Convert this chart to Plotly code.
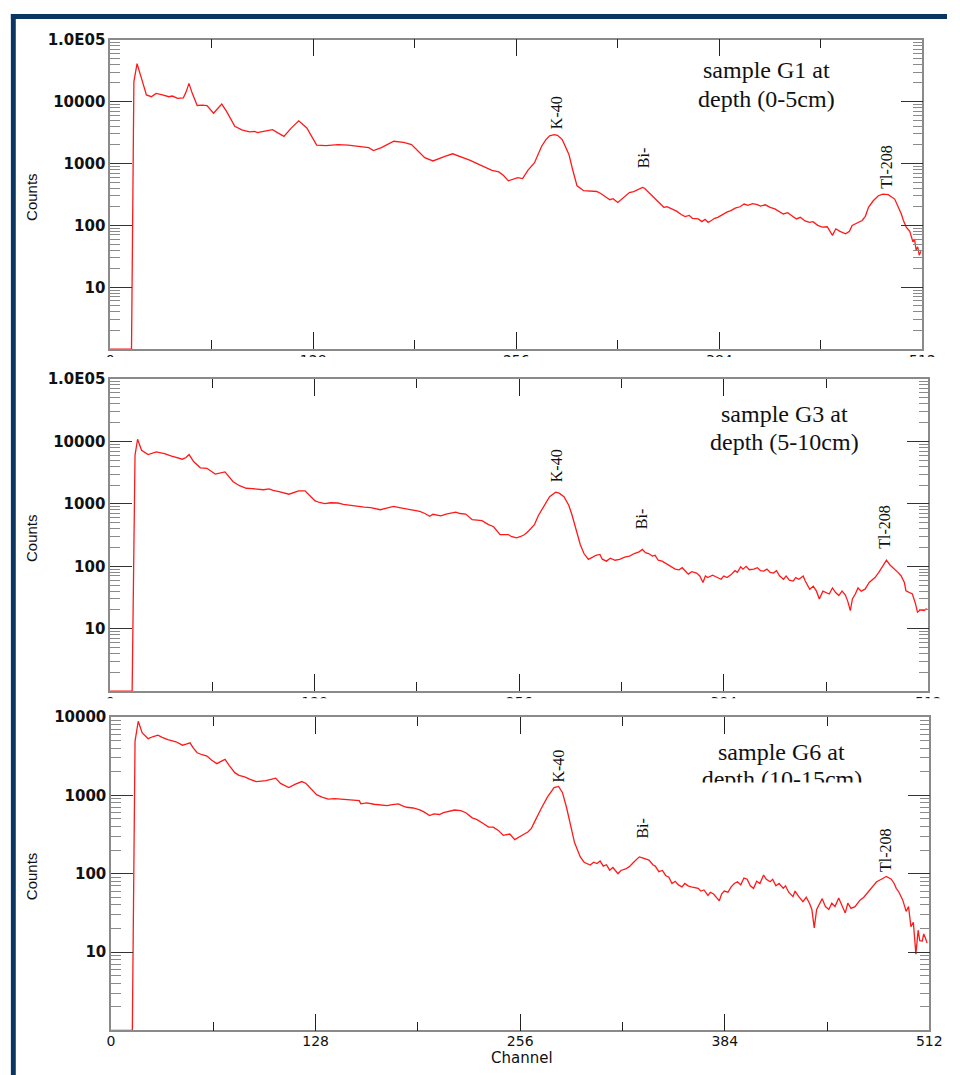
import plotly.graph_objects as go

W, H = 960, 1075

# ---------------- data (channel, counts) ----------------
g1_ch = [0, 13.5, 15, 17, 19.8, 22.9, 26, 29, 33, 37, 39.3, 42.5, 46.2, 48, 49.7, 51.8, 54.9, 58, 61.1, 65.2,
         68, 70.4, 73.5, 78.6, 83, 87.9, 91, 93, 95.1, 99, 102.4, 106, 109.6, 114, 118.9, 124, 130.2, 136,
         143.7, 150, 158, 163, 166, 171, 178.8, 185, 190, 194, 198.3, 203.5, 207, 211, 215.9, 222, 227,
         232.4, 236, 240.7, 245, 248, 251, 254, 257, 260, 263.3, 267.5, 269.5, 272, 274.7, 277, 279.9, 282,
         285, 287, 289.2, 291.5, 294.3, 298.5, 302, 306.7, 309, 311, 312.9, 315, 317, 320, 323, 325, 327.3,
         330, 333, 335.6, 337, 339, 341.8, 345, 349, 351, 354, 357, 360, 362.4, 365, 367, 370.7, 373, 375,
         376.9, 379, 381, 383, 386, 389, 391.3, 394, 397, 399.6, 402, 405, 407.9, 410, 413, 416, 419, 421,
         424.3, 427, 430, 432.6, 435, 438, 440.9, 443, 446, 449, 452, 455.3, 457.4, 460, 463.6, 466, 467.7,
         471, 474, 476, 478, 481, 484.2, 487, 490.4, 494.5, 496.5, 498.7, 500, 501.8, 504, 506, 507, 508,
         509, 510, 511]
g1_cnt = [1, 1, 21000, 41000, 23700, 12800, 12000, 13600, 12800, 12000, 12300, 11300, 11500, 14500, 19700,
          13600, 8650, 8800, 8650, 6500, 7800, 9100, 6900, 4000, 3500, 3240, 3300, 3150, 3240, 3350, 3520,
          3100, 2750, 3700, 4900, 3750, 1980, 1950, 2020, 1980, 1880, 1800, 1620, 1800, 2290, 2200, 2020,
          1600, 1240, 1100, 1200, 1300, 1435, 1270, 1120, 970, 890, 776, 730, 640, 525, 560, 592, 570, 776,
          1030, 1400, 1900, 2430, 2800, 2930, 2850, 2430, 1900, 1400, 800, 436, 363, 355, 353, 330, 300, 283,
          260, 270, 235, 270, 300, 340, 350, 380, 410, 395, 350, 301, 250, 196, 200, 184, 170, 150, 139, 145,
          130, 127, 115, 125, 112, 120, 130, 135, 150, 165, 173, 190, 200, 221, 210, 225, 216, 205, 215, 196,
          185, 170, 153, 160, 140, 127, 135, 118, 112, 115, 100, 94, 95, 69, 88, 80, 73, 80, 100, 110, 120,
          140, 196, 250, 301, 320, 313, 266, 210, 153, 120, 94, 80, 54, 60, 40, 45, 33, 38]

g3_ch = [0, 13.8, 15.6, 17.2, 19.7, 23.8, 28.9, 34, 38, 45.3, 47.5, 49.4, 52.4, 56.5, 60.6, 65.8, 71.9, 77,
         81, 85.2, 89, 93.4, 96, 99.5, 102, 105.7, 111.9, 118, 122, 125, 128.3, 131, 134.4, 138, 142.6, 146,
         150.8, 155, 159, 163, 166, 169.2, 173, 177.4, 181, 185.6, 189, 193.8, 197, 200, 202, 204, 207,
         210.2, 213, 216.3, 219, 222.5, 226.6, 230, 232.7, 236.8, 240, 244, 249.2, 251, 254.3, 257, 259.4,
         262, 265.5, 268, 271.7, 275, 278.8, 281, 284, 287, 289, 291.5, 294.2, 296.5, 299.3, 302, 304, 306.5,
         308, 310.6, 313, 316, 318.8, 322, 325, 328, 331, 333.1, 335, 337, 339.3, 341, 343, 345.4, 348, 350,
         353.6, 356, 358, 361.8, 364, 367, 369, 371, 372.5, 374, 377, 379, 382.3, 384, 386, 388.4, 391, 392.5,
         394.6, 396, 398, 400, 402.8, 405, 407, 409, 411, 413, 415, 417, 419, 421.4, 423, 425, 427.5, 429,
         431, 433.7, 435, 437.8, 440, 442, 443.8, 446, 448, 450, 452, 454, 456, 458, 460, 461.5, 463.2,
         464.5, 466.3, 468, 470, 472.4, 475, 478.6, 481, 483, 485.8, 488, 491, 493, 495, 497, 498, 500, 502,
         504, 505.2, 507, 509.3, 511]
g3_cnt = [1, 1, 6000, 10800, 7200, 6150, 6770, 6380, 5850, 5180, 5500, 6150, 4700, 3770, 3700, 2990, 3240,
          2260, 1950, 1775, 1750, 1710, 1680, 1730, 1640, 1570, 1425, 1610, 1610, 1350, 1115, 1050, 1010,
          1040, 1030, 980, 940, 920, 886, 870, 830, 804, 850, 907, 870, 832, 800, 755, 700, 630, 680, 660,
          640, 686, 710, 738, 700, 686, 557, 545, 537, 464, 430, 322, 322, 300, 285, 300, 322, 370, 464, 650,
          964, 1300, 1535, 1480, 1305, 950, 669, 400, 223, 160, 129, 140, 150, 155, 130, 121, 135, 125, 129,
          140, 146, 160, 170, 186, 165, 160, 146, 150, 125, 121, 110, 100, 90, 88, 95, 75, 82, 78, 70, 55, 70,
          66, 72, 68, 62, 70, 66, 73, 85, 80, 98, 90, 100, 88, 90, 95, 85, 84, 90, 80, 78, 85, 70, 62, 70,
          60, 58, 66, 62, 70, 58, 43, 48, 40, 30, 40, 38, 36, 45, 38, 34, 40, 35, 28, 19.5, 30, 36, 45, 40,
          43, 55, 66, 80, 95, 125, 105, 90, 80, 70, 55, 40.5, 38, 36, 25, 18.4, 20, 19.5, 21]

g6_ch = [0, 13.3, 15, 17, 19.5, 23.2, 26, 29.3, 32, 35.5, 40.6, 44.7, 47, 49.4, 51.5, 53.9, 57, 60, 63, 66.2,
         68.5, 71.3, 74, 77.4, 80, 83.6, 87, 90.8, 94, 96.9, 100, 103, 106, 108.5, 111.2, 115, 119.4, 122,
         124.5, 128.6, 132, 135.8, 140, 144, 148, 152, 155.3, 156.3, 160, 164.5, 168, 172.7, 176, 179.8, 182,
         185, 189, 193.2, 196, 199.3, 202, 205.5, 208, 211.6, 215, 218.8, 222, 226, 229, 233.1, 236.2, 239.2,
         242.3, 245.4, 249.5, 252.6, 256.7, 258.8, 260.8, 262.9, 264.9, 267, 269, 273, 277.2, 280, 282.4,
         285, 287.5, 290, 293.6, 296, 299.8, 302, 304, 306, 308, 310, 312, 314, 317.2, 319, 322, 324.3, 327,
         330.5, 332, 334, 336.6, 339, 340.5, 342.8, 345, 347, 349, 351, 353, 355, 357.2, 359, 361, 363, 365,
         367.4, 369, 371, 373.5, 375, 377, 379, 380.6, 382, 383.7, 386, 388, 390, 392, 394, 396, 398, 400,
         402, 404, 406, 408.3, 410, 412.4, 414, 416, 418, 420.6, 422, 424, 426.7, 428, 430, 432.9, 435, 437,
         438.5, 440, 441.5, 443, 445, 447, 449.1, 451, 453, 455.3, 457, 459.4, 461, 463, 465.5, 467, 468.6,
         471, 473.9, 476, 479, 482, 485.1, 488.2, 490, 491.3, 493, 495.4, 497.5, 499, 500.5, 502, 503.6,
         505, 506, 507.6, 508.5, 509.6, 510.6]
g6_cnt = [1, 1, 4920, 8830, 6270, 5300, 5600, 5860, 5500, 5160, 4830, 4370, 4500, 4680, 4000, 3500, 3300,
          3180, 2800, 2540, 2700, 2880, 2400, 1950, 1800, 1720, 1600, 1500, 1520, 1540, 1600, 1660, 1420,
          1350, 1260, 1380, 1500, 1420, 1260, 1020, 950, 897, 910, 897, 880, 870, 855, 780, 800, 770, 760,
          741, 760, 780, 740, 705, 690, 652, 610, 553, 580, 570, 600, 627, 650, 640, 600, 516, 490, 434, 393,
          393, 357, 309, 321, 272, 309, 324, 341, 375, 455, 560, 671, 950, 1260, 1300, 1090, 700, 413, 250,
          164, 140, 129, 140, 135, 145, 125, 130, 111, 120, 100, 110, 115, 123, 140, 164, 160, 155, 149, 130,
          125, 106, 110, 95, 90, 75, 80, 72, 68, 75, 70, 68, 66, 65, 60, 62, 52.7, 58, 55, 50, 45, 55, 60, 58,
          68, 75, 79, 72, 88, 85, 70, 65, 80, 75, 96, 85, 79, 85, 70, 75, 65, 70, 58, 51, 60, 52, 44, 50, 42,
          35, 20.3, 35, 40, 48, 38, 35, 42, 38, 49, 40, 31.6, 42, 36, 38, 42, 46, 50, 59, 65, 79, 85, 92, 85,
          75, 65, 58, 46, 33, 38, 21, 24, 9.4, 19, 14, 13.8, 17, 15, 13]

x_ticks = [0, 128, 256, 384, 512]
y_ticks5 = [10, 100, 1000, 10000, 100000]
y_text5 = ["10", "100", "1000", "10000", "1.0E05"]
y_ticks4 = [10, 100, 1000, 10000]
y_text4 = ["10", "100", "1000", "10000"]

RED = "#ff1a1a"
NAVY = "#0b3662"


def px_x(x):
    return x / W


def px_y(y):
    return 1 - y / H


fig = go.Figure()
for i, (ch, cnt) in enumerate([(g1_ch, g1_cnt), (g3_ch, g3_cnt), (g6_ch, g6_cnt)]):
    sfx = "" if i == 0 else str(i + 1)
    fig.add_trace(go.Scatter(x=ch, y=cnt, mode="lines", line=dict(color=RED, width=1.3),
                             xaxis="x" + sfx, yaxis="y" + sfx, hoverinfo="skip", showlegend=False))

# clipped text line of panel 3 title (drawn as trace text so it can be partly covered)
fig.add_trace(go.Scatter(x=[419.8], y=[1540], mode="text", text=["depth (10-15cm)"],
                         textposition="middle center",
                         textfont=dict(family="Liberation Serif", size=24, color="#111"),
                         xaxis="x3", yaxis="y3", hoverinfo="skip", showlegend=False, cliponaxis=False))

panels = [
    dict(top=31, bot=343, left=108, right=935, yr=[0, 5], tv=y_ticks5, tt=y_text5),
    dict(top=373, bot=688, left=108, right=941, yr=[0, 5], tv=y_ticks5, tt=y_text5),
    dict(top=714, bot=1030, left=109, right=942, yr=[0, 4], tv=y_ticks4, tt=y_text4),
]

layout = dict(width=W, height=H, margin=dict(l=0, r=0, t=0, b=0),
              paper_bgcolor="white", plot_bgcolor="white", showlegend=False)

for i, p in enumerate(panels):
    sfx = "" if i == 0 else str(i + 1)
    layout["xaxis" + sfx] = dict(
        domain=[px_x(p["left"]), px_x(p["right"])], anchor="y" + sfx, range=[0, 512],
        tickmode="array", tickvals=x_ticks, ticktext=[str(v) for v in x_ticks],
        ticks="inside", ticklen=17, tickwidth=1.2, tickcolor="#222",
        minor=dict(dtick=64, tick0=0, ticks="inside", ticklen=9, tickwidth=1.2, tickcolor="#222",
                   showgrid=False),
        showline=True, linecolor="#8a8a8a", linewidth=1.5, mirror="allticks",
        showgrid=False, zeroline=False, ticklabelstandoff=-3,
        tickfont=dict(family="DejaVu Sans", size=14, color="#111"),
    )
    layout["yaxis" + sfx] = dict(
        domain=[px_y(p["bot"]), px_y(p["top"])], anchor="x" + sfx, type="log", range=p["yr"],
        tickmode="array", tickvals=p["tv"], ticktext=p["tt"],
        ticks="inside", ticklen=22, tickwidth=1.2, tickcolor="#333",
        minor=dict(dtick="D1", ticks="inside", ticklen=10, tickwidth=1.2, tickcolor="#8a8a8a",
                   showgrid=False),
        showline=True, linecolor="#8a8a8a", linewidth=1.5, mirror="allticks",
        showgrid=False, zeroline=False,
        tickfont=dict(family="DejaVu Sans", size=15, color="#111", weight="bold"),
    )

fig.update_layout(**layout)

ann = []


def add_text(x, y, text, size, family="Liberation Serif", angle=0, weight="normal"):
    ann.append(dict(x=px_x(x), y=px_y(y), xref="paper", yref="paper", text=text, showarrow=False,
                    textangle=angle, font=dict(family=family, size=size, color="#111", weight=weight),
                    xanchor="center", yanchor="middle"))


# panel titles
add_text(776, 62, "sample G1 at", 24)
add_text(776, 91, "depth (0-5cm)", 24)
add_text(795, 408, "sample G3 at", 24)
add_text(795, 437, "depth (5-10cm)", 24)
add_text(792, 749, "sample G6 at", 24)

# peak labels
for (x, y, t) in [(562, 105, "K-40"), (651, 150, "Bi-"), (899, 159, "Tl-208"),
                  (562, 461, "K-40"), (649, 515, "Bi-"), (896, 522, "Tl-208"),
                  (565, 763, "K-40"), (650, 826, "Bi-"), (898, 848, "Tl-208")]:
    add_text(x, y, t, 16, angle=-90)

# axis titles
for y in [190, 534, 875]:
    add_text(28, y, "Counts", 15, family="Liberation Sans Narrow, Liberation Sans", angle=-90)
add_text(527, 1058, "Channel", 15, family="DejaVu Sans")

fig.update_layout(annotations=ann)

shapes = []
# overlapping image strips that hide the lower part of the upper panels' tick labels
shapes.append(dict(type="rect", xref="paper", yref="paper", x0=px_x(60), x1=1, y0=px_y(366), y1=px_y(351),
                   fillcolor="white", line=dict(width=0), layer="above"))
shapes.append(dict(type="rect", xref="paper", yref="paper", x0=px_x(60), x1=1, y0=px_y(706), y1=px_y(695),
                   fillcolor="white", line=dict(width=0), layer="above"))
# lower part of the G6 title is cut
shapes.append(dict(type="rect", xref="paper", yref="paper", x0=px_x(700), x1=px_x(890), y0=px_y(795),
                   y1=px_y(780), fillcolor="white", line=dict(width=0), layer="above"))
# navy frame of the slide
shapes.append(dict(type="rect", xref="paper", yref="paper", x0=px_x(7), x1=1, y0=px_y(10), y1=px_y(5),
                   fillcolor=NAVY, line=dict(width=0), layer="above"))
shapes.append(dict(type="rect", xref="paper", yref="paper", x0=px_x(7), x1=px_x(12), y0=0, y1=px_y(5),
                   fillcolor=NAVY, line=dict(width=0), layer="above"))
fig.update_layout(shapes=shapes)

fig.write_html("out.html", config={"displayModeBar": False},
               post_script="document.body.style.margin='0px';document.body.style.overflow='hidden';")
